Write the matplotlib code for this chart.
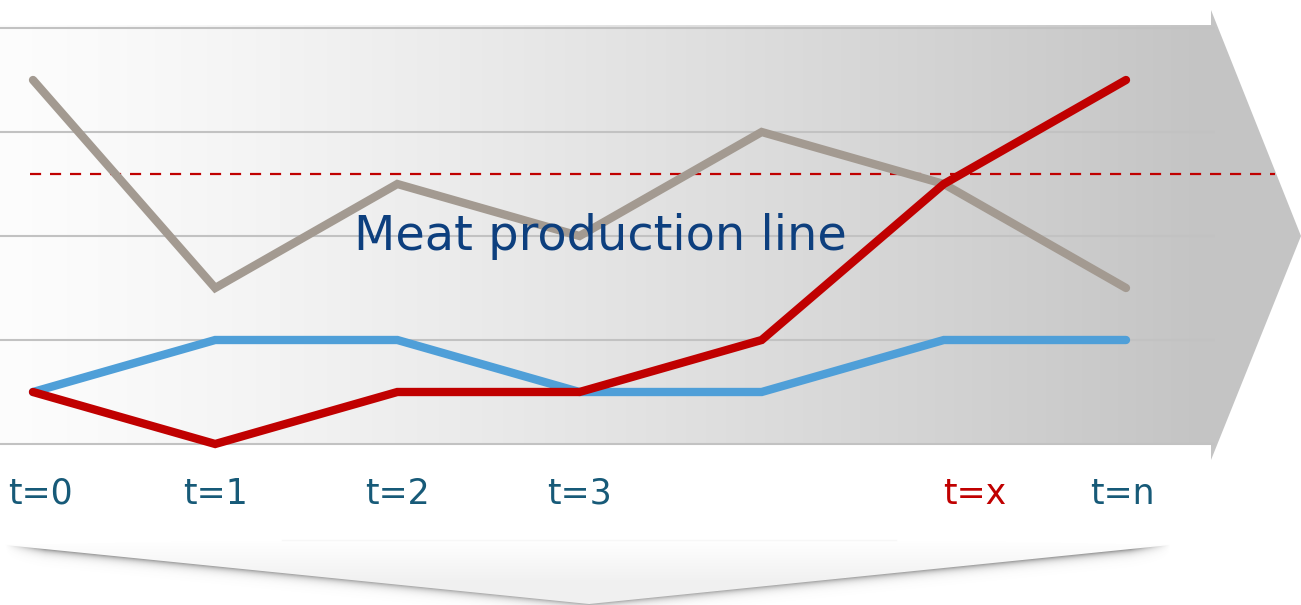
import numpy as np
import matplotlib
matplotlib.use("Agg")
import matplotlib.pyplot as plt
from matplotlib.patches import Polygon

# ---- data ----
steps = ["t=0", "t=1", "t=2", "t=3", "", "t=x", "t=n"]
gray_series = [3.5, 1.5, 2.5, 2.0, 3.0, 2.5, 1.5]
blue_series = [0.5, 1.0, 1.0, 0.5, 0.5, 1.0, 1.0]
red_series = [0.5, 0.0, 0.5, 0.5, 1.0, 2.5, 3.5]
threshold = 2.6
grid_levels = [0, 1, 2, 3, 4]
title = "Meat production line"

W, H = 1301, 605
fig = plt.figure(figsize=(W / 100, H / 100), dpi=100)
ax = fig.add_axes([0, 0, 1, 1])

# axis limits chosen so index 0..6 spans the plot and levels 0..4 span the grid
x0_px, x6_px = 33, 1126
y0_px, y4_px = 444, 28
ux = (x6_px - x0_px) / 6
uy = (y0_px - y4_px) / 4
xl = (-x0_px / ux, (W - x0_px) / ux)
yl = ((y0_px - H) / uy, y0_px / uy)
ax.set_xlim(*xl)
ax.set_ylim(*yl)
ax.axis("off")


def px(x):
    return xl[0] + x / W * (xl[1] - xl[0])


def py(y):
    return yl[1] - y / H * (yl[1] - yl[0])


ext = [xl[0], xl[1], yl[0], yl[1]]
YY, XX = np.mgrid[0:H, 0:W].astype(float)

# ---- big right-pointing arrow with horizontal gradient ----
arrow_pts = [(0, 25), (1211, 25), (1211, 10), (1301, 236), (1211, 460),
             (1211, 444), (0, 444)]
arrow = Polygon([(px(a), py(b)) for a, b in arrow_pts], closed=True,
                facecolor="none", edgecolor="none")
ax.add_patch(arrow)
xs = np.arange(W)
t = np.clip((xs - 10) / 1190.0, 0, 1)
val = 0.99 - (0.99 - 0.77) * t ** 1.2
val[xs >= 1211] = 0.77
grad = np.tile(val, (H, 1))
img = ax.imshow(np.dstack([grad, grad, grad]), extent=ext, aspect="auto",
                zorder=0, interpolation="bilinear")
img.set_clip_path(arrow)

# ---- downward chevron with a drop shadow under its lower edges ----
chev_pts = [(5, 545), (282, 540), (896, 540), (1170, 545), (589, 604)]


def below_dist(p, q):
    (x1, y1), (x2, y2) = p, q
    yline = y1 + (XX - x1) * (y2 - y1) / (x2 - x1)
    return YY - yline


dl = below_dist((5, 545), (589, 604))
dr = below_dist((1170, 545), (589, 604))
d = np.where(XX < 589, dl, dr)
inside_x = (XX >= 5) & (XX <= 1170)
side = np.clip(np.abs(XX - 589) / 584.0, 0, 1)
fade = np.clip(np.minimum(XX - 5, 1170 - XX) / 40.0, 0, 1)
alpha = np.where((d > -1) & inside_x,
                 (0.45 + 0.15 * side) * fade * np.exp(-np.clip(d, 0, None) / 3.5),
                 0.0)
shadow = np.zeros((H, W, 4))
shadow[..., :3] = 0.35
shadow[..., 3] = alpha
ax.imshow(shadow, extent=ext, aspect="auto", zorder=0.4,
          interpolation="bilinear")

chev = Polygon([(px(a), py(b)) for a, b in chev_pts], closed=True,
               facecolor="none", edgecolor="none")
ax.add_patch(chev)
cval = 1.0 - 0.055 * np.clip((YY - 540) / 40.0, 0, 1)
cimg = ax.imshow(np.dstack([cval, cval, cval]), extent=ext, aspect="auto",
                 zorder=0.5, interpolation="bilinear")
cimg.set_clip_path(chev)
ax.plot([px(282), px(896)], [py(540), py(540)], color="#f7f7f7", lw=1,
        zorder=0.6)

# ---- grid ----
for g in grid_levels:
    ax.plot([px(0), px(1215)], [g, g], color="#c2c2c2", lw=1.5, zorder=1,
            solid_capstyle="butt")

# ---- threshold ----
ax.plot([px(30), px(1275)], [threshold, threshold], color="#c00000", lw=1.6,
        ls=(0, (5, 4)), zorder=2)

# ---- series ----
idx = np.arange(len(steps))
kw = dict(lw=6.0, solid_capstyle="round", solid_joinstyle="miter", zorder=3)
ax.plot(idx, gray_series, color="#a39a91", **kw)
ax.plot(idx, blue_series, color="#4f9fd8", **kw)
ax.plot(idx, red_series, color="#c00000", **kw)

# ---- title ----
ax.text(px(600), py(237), title, color="#0d3f7e", fontsize=34.5,
        ha="center", va="center", zorder=4, family="DejaVu Sans")

# ---- step labels ----
nudge = {"t=0": 7, "t=x": 31, "t=n": -4}
for i, lab in enumerate(steps):
    if not lab:
        continue
    color = "#c00000" if lab == "t=x" else "#175a78"
    ax.text(i + nudge.get(lab, 0) / ux, py(494), lab, color=color,
            fontsize=25, ha="center", va="center", zorder=4)

fig.savefig("out.png", dpi=100)
